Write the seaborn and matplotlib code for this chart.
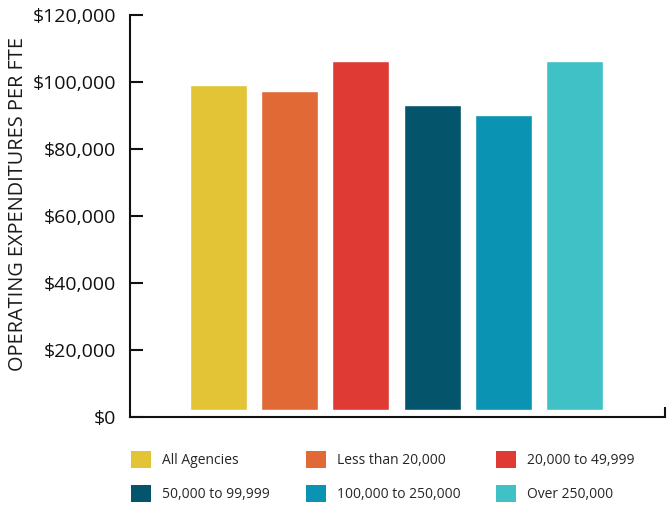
import pandas as pd
import numpy as np
import matplotlib.pyplot as plt
import seaborn as sns
from matplotlib.patches import Patch
from matplotlib.ticker import FuncFormatter

# Data
categories = ["All Agencies", "Less than 20,000", "20,000 to 49,999",
              "50,000 to 99,999", "100,000 to 250,000", "Over 250,000"]
expenditures = [99000, 97300, 106300, 93100, 90100, 106300]
colors = ["#E3C436", "#E06936", "#E03A35", "#04546C", "#0B93B4", "#3FC1C6"]
y_ticks = [0, 20000, 40000, 60000, 80000, 100000, 120000]

df = pd.DataFrame({"group": categories, "value": expenditures})

sns.set_style("white")
plt.rcParams['font.family'] = ['Open Sans', 'DejaVu Sans']

fig = plt.figure(figsize=(6.7, 5.13), dpi=100)
ax = fig.add_axes([0.194, 0.187, 0.7985, 0.784])

sns.barplot(data=df, x="group", y="value", hue="group", palette=colors,
            order=categories, hue_order=categories, legend=False,
            width=0.8, saturation=1, ax=ax)

# bars float slightly above the axis line
gap = 2000
for p in ax.patches:
    h = p.get_height()
    p.set_y(gap)
    p.set_height(h - gap)

ax.set_ylim(0, 120000)
ax.set_xlim(-1.24, 6.27)
ax.set_yticks(y_ticks)
ax.yaxis.set_major_formatter(FuncFormatter(lambda v, _: f"${v:,.0f}"))
ax.set_xticks([6.27])
ax.set_xticklabels([""])
ax.set_xlabel("")
ax.set_ylabel("OPERATING EXPENDITURES PER FTE", fontsize=14.3, color="#1a1a1a")
ax.yaxis.set_label_coords(-0.19, 0.53)

sns.despine(ax=ax, top=True, right=True)
for s in ["left", "bottom"]:
    ax.spines[s].set_linewidth(1.5)
    ax.spines[s].set_color("#111111")
ax.tick_params(axis="y", direction="in", length=9, width=1.5, color="#111111",
               labelsize=14, labelcolor="#111111", pad=10, left=True)
ax.tick_params(axis="x", direction="in", length=7, width=1.5, color="#111111", bottom=True)

# legend: row-wise order for 3 columns
handles = [Patch(facecolor=c, edgecolor="none") for c in colors]
order = [0, 3, 1, 4, 2, 5]
fig.legend([handles[i] for i in order], [categories[i] for i in order],
           ncol=3, loc="upper left", bbox_to_anchor=(0.177, 0.145),
           frameon=False, fontsize=10, handlelength=1.45, handleheight=1.45,
           handletextpad=0.8, columnspacing=2.55, labelspacing=1.25)

plt.savefig("out.png", dpi=100)
